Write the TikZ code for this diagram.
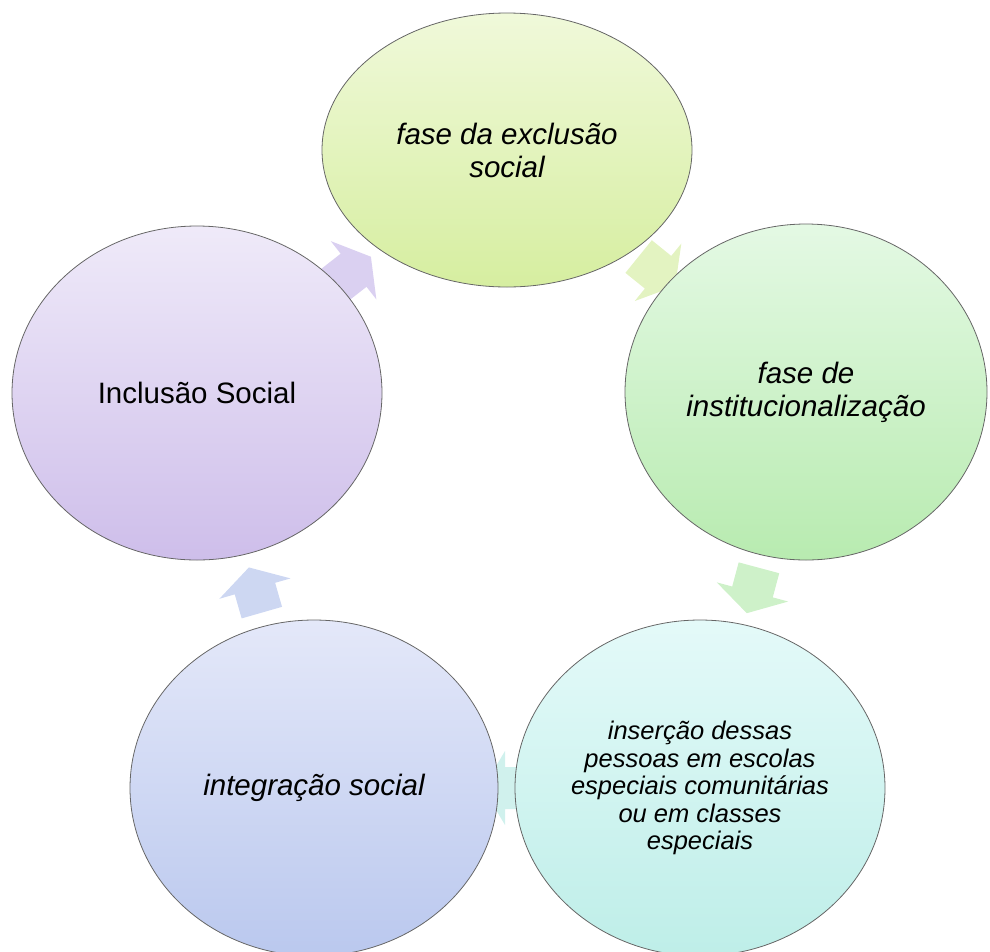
\documentclass[tikz,border=0pt]{standalone}
\usepackage{fontspec}
\setmainfont{Liberation Sans}
\usetikzlibrary{shapes.geometric,calc}
\definecolor{topA}{RGB}{240,249,218}\definecolor{topB}{RGB}{214,238,160}
\definecolor{rgtA}{RGB}{228,249,228}\definecolor{rgtB}{RGB}{184,235,176}
\definecolor{brA}{RGB}{228,250,249}\definecolor{brB}{RGB}{190,238,232}
\definecolor{blA}{RGB}{228,232,249}\definecolor{blB}{RGB}{186,200,238}
\definecolor{lfA}{RGB}{239,234,249}\definecolor{lfB}{RGB}{206,190,234}
\definecolor{arA}{RGB}{222,241,182}\definecolor{arB}{RGB}{198,238,192}
\definecolor{arC}{RGB}{200,238,234}\definecolor{arD}{RGB}{196,208,240}
\definecolor{arE}{RGB}{212,200,238}
\begin{document}
\begin{tikzpicture}[x=1pt,y=-1pt,
  phase/.style={ellipse, draw=black!60, line width=0.8pt, inner sep=0pt,
    align=center, text=black, font=\fontsize{29.5}{33}\selectfont\itshape},
  cycarrow/.style={fill=#1, draw=none, opacity=0.85}]
\useasboundingbox (0,0) rectangle (990,951);
% positions of the phases
\coordinate (ptop) at (507,150);
\coordinate (prgt) at (806,392);
\coordinate (pbr)  at (700,788);
\coordinate (pbl)  at (314,788);
\coordinate (plft) at (197,393);
% block arrows at the midpoints between phases
\coordinate (a1) at ($(ptop)!0.5!(prgt)$);
\coordinate (a2) at ($(prgt)!0.5!(pbr)$);
\coordinate (a3) at ($(pbr)!0.5!(pbl)$);
\coordinate (a4) at ($(pbl)!0.5!(plft)$);
\coordinate (a5) at ($(plft)!0.5!(ptop)$);
\foreach \c/\ang/\col in {a1/-39/arA, a2/-105/arB, a3/180/arC, a4/106/arD, a5/38/arE}{
  \begin{scope}[shift={(\c)}, rotate=\ang]
    \fill[cycarrow=\col] (-23,-21) -- (2,-21) -- (2,-37) -- (24,0) -- (2,37) -- (2,21) -- (-23,21) -- cycle;
  \end{scope}
}
% phases
\node[phase, minimum width=370pt, minimum height=274pt, top color=topA, bottom color=topB]
  (top) at (ptop) {fase da exclusão\\social};
\node[phase, minimum width=362pt, minimum height=336pt, top color=rgtA, bottom color=rgtB]
  (rgt) at (prgt) {fase de\\institucionalização};
\node[phase, minimum width=370pt, minimum height=336pt, top color=brA, bottom color=brB,
  font=\fontsize{25.5}{27.5}\selectfont\itshape]
  (br) at (pbr) {inserção dessas\\pessoas em escolas\\especiais comunitárias\\ou em classes\\especiais};
\node[phase, minimum width=368pt, minimum height=336pt, top color=blA, bottom color=blB]
  (bl) at (pbl) {integração social};
\node[phase, minimum width=370pt, minimum height=334pt, top color=lfA, bottom color=lfB,
  font=\fontsize{29.5}{33}\selectfont\upshape]
  (lft) at (plft) {Inclusão Social};
\end{tikzpicture}
\end{document}
